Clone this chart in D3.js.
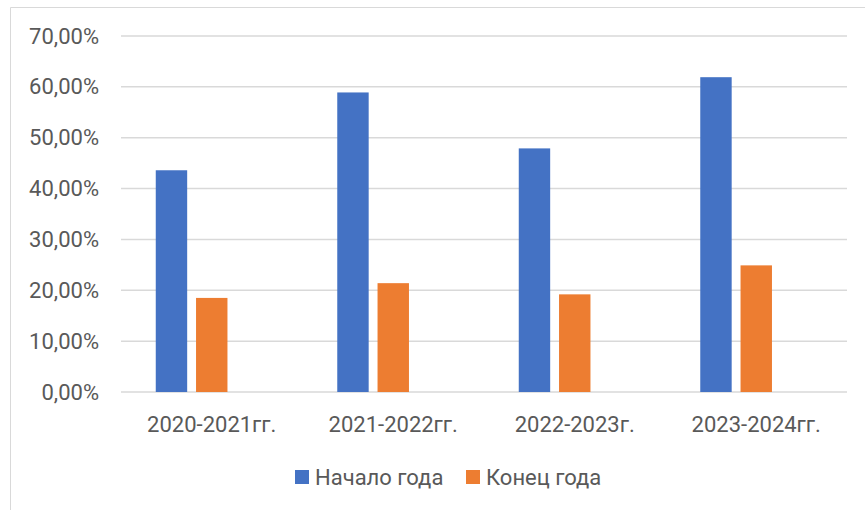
<!DOCTYPE html>
<html>
<head>
<meta charset="utf-8">
<script src="https://cdn.jsdelivr.net/npm/d3@7"></script>
<style>
  body { margin: 0; background: #fff; }
  text { font-family: Roboto, "Open Sans", sans-serif; fill: #595959; }
</style>
</head>
<body>
<div id="chart"></div>
<script>
// DATA
categories = ["2020-2021гг.", "2021-2022гг.", "2022-2023г.", "2023-2024гг."]
seriesNames = ["Начало года", "Конец года"]
startValues = [43.6, 58.9, 47.9, 61.9]
endValues = [18.5, 21.4, 19.2, 24.9]
yTicks = [0, 10, 20, 30, 40, 50, 60, 70]

colors = ["#4472C4", "#ED7D31"]

// CHART SIZE
width = 865
height = 510
margin = {top: 36, right: 18, bottom: 118, left: 121}

svg = d3.select("#chart")
          .append("svg")
            .attr("width", width)
            .attr("height", height);

// CHART AREA BORDER
svg.append("path")
    .attr("d", "M10.5," + height + "V7.5H" + width)
    .attr("fill", "none")
    .attr("stroke", "#d9d9d9")
    .attr("stroke-width", 1);

// SCALES
x0 = d3.scaleBand()
       .domain(categories)
       .range([margin.left, width - margin.right])
       .paddingInner(0);

// excel keeps a third (empty) slot in each group
groupWidth = x0.bandwidth() * 0.617
x1 = d3.scaleBand()
       .domain([0, 1, 2])
       .range([0, groupWidth])
       .paddingInner(0.22);

y = d3.scaleLinear()
      .domain([0, 70])
      .range([height - margin.bottom, margin.top]);

// GRIDLINES
svg.append("g")
    .selectAll("line")
    .data(yTicks)
    .enter()
    .append("line")
      .attr("x1", margin.left)
      .attr("x2", width - margin.right)
      .attr("y1", function(d) { return y(d); })
      .attr("y2", function(d) { return y(d); })
      .attr("stroke", "#d9d9d9")
      .attr("stroke-width", 1.5);

// Y-AXIS LABELS
yFormat = function(d) { return d3.format(".2f")(d).replace(".", ",") + "%"; }
svg.append("g")
    .selectAll("text")
    .data(yTicks)
    .enter()
    .append("text")
      .attr("x", 99)
      .attr("y", function(d) { return y(d); })
      .attr("text-anchor", "end")
      .attr("dominant-baseline", "central")
      .attr("font-size", "22px")
      .text(yFormat);

// BARS
seriesData = [startValues, endValues]
groups = svg.append("g")
    .selectAll("g")
    .data(categories)
    .enter()
    .append("g")
      .attr("transform", function(d) {
          return "translate(" + (x0(d) + (x0.bandwidth() - groupWidth) / 2) + ",0)";
      });

groups.selectAll("rect")
    .data(function(d, i) { return seriesData.map(function(s, j) { return {s: j, v: s[i]}; }); })
    .enter()
    .append("rect")
      .attr("x", function(d) { return x1(d.s); })
      .attr("y", function(d) { return y(d.v); })
      .attr("width", x1.bandwidth())
      .attr("height", function(d) { return y(0) - y(d.v); })
      .attr("fill", function(d) { return colors[d.s]; });

// X-AXIS LABELS
svg.append("g")
    .selectAll("text")
    .data(categories)
    .enter()
    .append("text")
      .attr("x", function(d) { return x0(d) + x0.bandwidth() / 2; })
      .attr("y", 424)
      .attr("text-anchor", "middle")
      .attr("dominant-baseline", "central")
      .attr("font-size", "22px")
      .text(function(d) { return d; });

// LEGEND
legend = svg.append("g").attr("class", "legend");
legendX = [295, 466]
size = 14

legend.selectAll("rect")
    .data(seriesNames)
    .enter()
    .append("rect")
      .attr("x", function(d, i) { return legendX[i]; })
      .attr("y", 477 - size / 2)
      .attr("width", size)
      .attr("height", size)
      .style("fill", function(d, i) { return colors[i]; });

legend.selectAll("text")
    .data(seriesNames)
    .enter()
    .append("text")
      .attr("x", function(d, i) { return legendX[i] + size + 6; })
      .attr("y", 477)
      .attr("dominant-baseline", "central")
      .attr("font-size", "22px")
      .text(function(d) { return d; });
</script>
</body>
</html>
